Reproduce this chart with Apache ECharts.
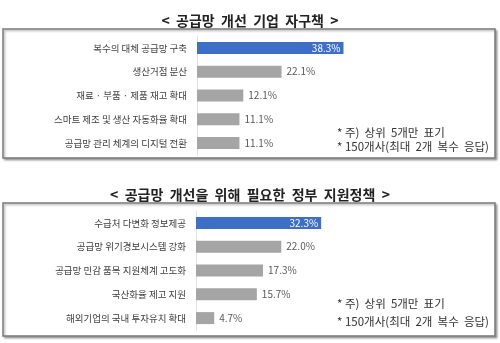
<!DOCTYPE html>
<html>
<head>
<meta charset="utf-8">
<script src="https://cdn.jsdelivr.net/npm/echarts@6/dist/echarts.min.js"></script>
<style>
  html, body { margin: 0; padding: 0; background: #fff; }
  #chart { width: 500px; height: 343px; }
</style>
</head>
<body>
<div id="chart"></div>
<script>
// Survey: corporate supply-chain measures and requested government support (%)
const titleTop = '<  공급망  개선  기업  자구책  >';
const categoriesTop = ['복수의 대체 공급망 구축', '생산거점 분산', '재료 · 부품 · 제품 재고 확대', '스마트 제조 및 생산 자동화율 확대', '공급망 관리 체계의 디지털 전환'];
const valuesTop = [38.3, 22.1, 12.1, 11.1, 11.1];

const titleBottom = '<  공급망  개선을  위해  필요한  정부  지원정책  >';
const categoriesBottom = ['수급처 다변화 정보제공', '공급망 위기경보시스템 강화', '공급망 민감 품목 지원체계 고도화', '국산화율 제고 지원', '해외기업의 국내 투자유치 확대'];
const valuesBottom = [32.3, 22.0, 17.3, 15.7, 4.7];

const notes = ['* 주)  상위  5개만  표기', '* 150개사(최대  2개  복수  응답)'];

const FONT = '"Noto Sans CJK KR", "Noto Sans", sans-serif';
const BLUE = '#3d6fc8';
const GREY = '#a5a5a5';

function barData(values) {
  return values.map((v, i) => ({
    value: v,
    itemStyle: { color: i === 0 ? BLUE : GREY },
    label: i === 0
      ? { position: 'insideRight', color: '#ffffff', distance: 3 }
      : { position: 'right', color: '#595959', distance: 5 }
  }));
}

function yAxisFor(gridIndex, cats) {
  return {
    type: 'category', gridIndex, data: cats, inverse: true,
    axisLine: { show: true, lineStyle: { color: '#e0e0e0', width: 1 } },
    axisTick: { show: false },
    axisLabel: { fontFamily: FONT, fontSize: 9.5, color: '#404040', margin: 10 }
  };
}

function xAxisFor(gridIndex) {
  return {
    type: 'value', gridIndex, min: 0, max: 40,
    show: false, splitLine: { show: false }
  };
}

function boxFor(top, height) {
  return {
    type: 'rect', silent: true, z: -1,
    shape: { x: 3, y: top, width: 492, height: height },
    style: {
      fill: '#ffffff', stroke: '#7a7a7a', lineWidth: 1.5,
      shadowBlur: 2, shadowOffsetX: 1.5, shadowOffsetY: 1.5, shadowColor: 'rgba(0,0,0,0.3)'
    }
  };
}

function noteFor(x, y, text) {
  return {
    type: 'text', silent: true, z: 5, x, y,
    style: { text, fontFamily: FONT, fontSize: 11.5, fill: '#333333', verticalAlign: 'middle' }
  };
}

const chart = echarts.init(document.getElementById('chart'), null, { renderer: 'canvas' });

chart.setOption({
  animation: false,
  backgroundColor: '#ffffff',
  title: [
    { text: titleTop, left: 'center', top: 9,
      textStyle: { fontFamily: FONT, fontSize: 14, fontWeight: 'bold', color: '#222222' } },
    { text: titleBottom, left: 'center', top: 183,
      textStyle: { fontFamily: FONT, fontSize: 14, fontWeight: 'bold', color: '#222222' } }
  ],
  grid: [
    { left: 197, top: 36, width: 153, height: 119 },
    { left: 196, top: 211, width: 155, height: 119 }
  ],
  xAxis: [xAxisFor(0), xAxisFor(1)],
  yAxis: [yAxisFor(0, categoriesTop), yAxisFor(1, categoriesBottom)],
  series: [
    {
      type: 'bar', xAxisIndex: 0, yAxisIndex: 0, barWidth: 12,
      data: barData(valuesTop),
      label: { show: true, fontFamily: FONT, fontSize: 10, formatter: p => p.value.toFixed(1) + '%' }
    },
    {
      type: 'bar', xAxisIndex: 1, yAxisIndex: 1, barWidth: 12,
      data: barData(valuesBottom),
      label: { show: true, fontFamily: FONT, fontSize: 10, formatter: p => p.value.toFixed(1) + '%' }
    }
  ],
  graphic: [
    boxFor(29, 129),
    boxFor(203, 133),
    noteFor(337, 133, notes[0]),
    noteFor(337, 147, notes[1]),
    noteFor(337, 304, notes[0]),
    noteFor(337, 322, notes[1])
  ]
});
</script>
</body>
</html>
